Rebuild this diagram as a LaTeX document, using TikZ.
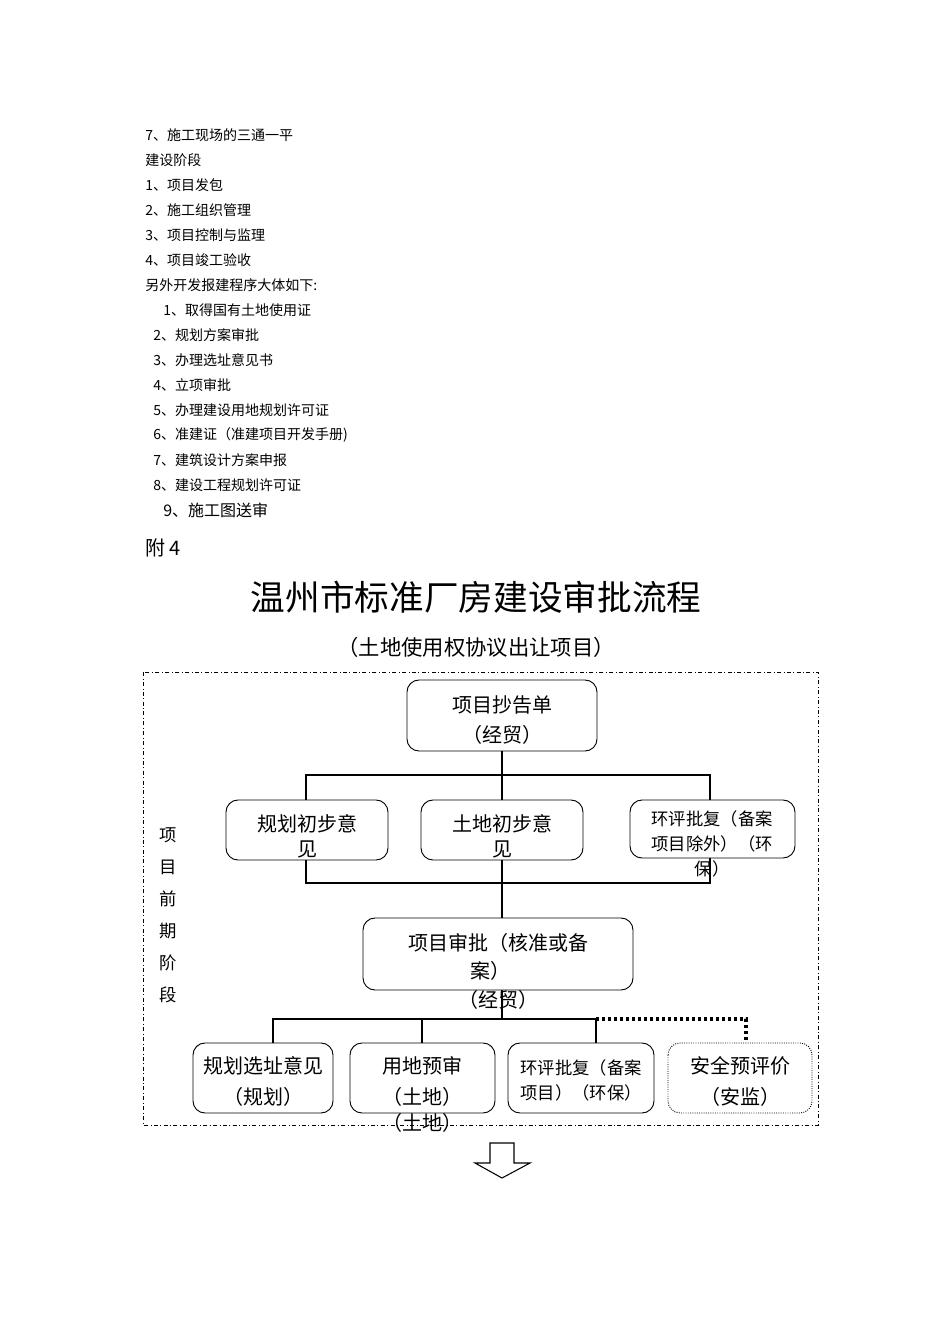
\documentclass[tikz,border=0pt]{standalone}
\usepackage{fontspec}
\setmainfont{Liberation Sans}
\newfontfamily\cjk{Noto Sans CJK SC}
\begin{document}
\begin{tikzpicture}[x=0.75pt,y=-0.75pt,
  txt/.style={anchor=west,inner sep=0,font=\cjk\fontsize{10.5}{12}\selectfont},
  rbox/.style={draw,rounded corners=9pt,line width=0.7pt},
  lbl/.style={inner sep=0,font=\cjk\fontsize{15}{18}\selectfont},
  slbl/.style={inner sep=0,font=\cjk\fontsize{13}{16}\selectfont},
  bus/.style={line width=2pt}]
\useasboundingbox (0,0) rectangle (950,1344);
\foreach \t/\x/\y in {{7、施工现场的三通一平}/145/135,{建设阶段}/145/160,{1、项目发包}/145/185,{2、施工组织管理}/145/210,{3、项目控制与监理}/145/235,{4、项目竣工验收}/145/260,{另外开发报建程序大体如下:}/145/285,{1、取得国有土地使用证}/163/310,{2、规划方案审批}/153/335,{3、办理选址意见书}/153/360,{4、立项审批}/153/385,{5、办理建设用地规划许可证}/153/410,{6、准建证（准建项目开发手册)}/153/435,{7、建筑设计方案申报}/153/460,{8、建设工程规划许可证}/153/485}
  \node[txt] at (\x,\y) {\t};
\node[txt,font=\cjk\fontsize{12}{14}\selectfont] (t9) at (163,510) {9、施工图送审};
\node[txt,font=\cjk\fontsize{15}{18}\selectfont] (fu) at (145,548) {附 4};
\node[inner sep=0,font=\cjk\fontsize{26}{30}\selectfont] (title) at (476,597) {温州市标准厂房建设审批流程};
\node[inner sep=0,font=\cjk\fontsize{16}{20}\selectfont] (sub) at (476,647) {（土地使用权协议出让项目）};
\draw[dash dot,line width=0.6pt] (143,672) rectangle (818,1125);
\foreach \c [count=\i] in {项,目,前,期,阶,段}
  \node[inner sep=0,font=\cjk\fontsize{13}{15}\selectfont] (s\i) at (168,803+\i*32) {\c};
% boxes
\draw[rbox] (407,680) rectangle (597,751); \node[lbl] (a1) at (502,705) {项目抄告单}; \node[lbl] (a2) at (502,735) {（经贸）};
\coordinate (top) at (502,751);
\draw[rbox] (226,800) rectangle (388,860); \node[lbl] at (307,824) {规划初步意}; \node[lbl] at (307,849) {见};
\draw[rbox] (421,800) rectangle (583,860); \node[lbl] at (502,824) {土地初步意}; \node[lbl] at (502,849) {见};
\draw[rbox] (630,800) rectangle (795,858); \node[slbl] at (712,819) {环评批复（备案}; \node[slbl] at (712,844) {项目除外）（环}; \node[slbl] at (712,869) {保）};
\draw[rbox] (363,918) rectangle (633,990); \node[lbl] at (498,943) {项目审批（核准或备}; \node[lbl] at (490,971) {案）}; \node[lbl] at (498,1000) {（经贸）};
\draw[rbox] (193,1043) rectangle (333,1113); \node[lbl] at (263,1066) {规划选址意见}; \node[lbl] at (263,1097) {（规划）};
\draw[rbox] (350,1043) rectangle (495,1113); \node[lbl] at (422,1066) {用地预审}; \node[lbl] at (422,1097) {（土地）}; \node[lbl] at (422,1123) {（土地）};
\draw[rbox] (508,1043) rectangle (654,1113); \node[slbl] at (581,1068) {环评批复（备案}; \node[slbl] at (581,1093) {项目）（环保）};
\draw[rbox,densely dotted] (668,1043) rectangle (812,1113); \node[lbl] at (740,1066) {安全预评价}; \node[lbl] at (740,1097) {（安监）};
% connectors
\draw[bus] (502,751) -- (502,800);
\draw[bus] (306,800) |- (710,775) -- (710,800);
\draw[bus] (306,860) |- (710,883) -- (710,858);
\draw[bus] (502,860) -- (502,918);
\draw[bus] (502,990) -- (502,1019);
\draw[bus] (273,1043) |- (596,1019) -- (596,1043);
\draw[bus] (422,1019) -- (422,1043);
\draw[line width=2.5pt,dotted] (596,1019) -- (746,1019) -- (746,1040);
% arrow
\draw[line width=0.8pt] (490,1143) -- (514,1143) -- (514,1163) -- (530,1163) -- (502,1178) -- (475,1163) -- (490,1163) -- cycle;
\end{tikzpicture}
\end{document}
